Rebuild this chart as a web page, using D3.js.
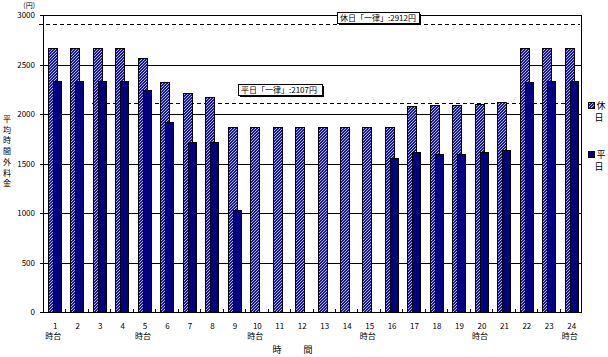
<!DOCTYPE html>
<html>
<head>
<meta charset="utf-8">
<script src="https://cdn.jsdelivr.net/npm/d3@7"></script>
<style>
  body { margin: 0; background: #fff; }
  text { font-family: "Noto Sans CJK JP", "DejaVu Sans", sans-serif; fill: #000; }
</style>
</head>
<body>
<svg id="chart"></svg>
<script>
// hours of the day
var hours = ["1","2","3","4","5","6","7","8","9","10","11","12","13","14","15","16","17","18","19","20","21","22","23","24"]
// 休日 (holiday) average overtime charge, yen
var holiday = [2670,2670,2670,2670,2570,2320,2210,2170,1870,1870,1870,1870,1870,1870,1870,1870,2080,2090,2090,2100,2120,2670,2670,2670]
// 平日 (weekday)
var weekday = [2330,2330,2330,2330,2240,1920,1720,1720,1030,0,0,0,0,0,0,1560,1620,1600,1600,1620,1640,2320,2330,2330]
var yTicks = [0,500,1000,1500,2000,2500,3000]
// flat-rate reference lines
var flatHoliday = 2912
var flatWeekday = 2107
var hourSuffixAt = ["1","5","10","15","20","24"]

var width = 608, height = 357
var svg = d3.select('#chart')
	.attr('width', width)
	.attr('height', height)

var x = d3.scaleBand()
	.domain(hours)
	.range([43, 582])
var y = d3.scaleLinear()
	.domain([0, 3000])
	.range([312.3, 15])

// hatch for holiday bars
var defs = svg.append('defs')
var pat = defs.append('pattern')
	.attr('id', 'hatch')
	.attr('patternUnits', 'userSpaceOnUse')
	.attr('width', 3)
	.attr('height', 3)
pat.append('rect')
	.attr('width', 3)
	.attr('height', 3)
	.attr('fill', '#1c1c90')
pat.append('path')
	.attr('d', 'M-1,1 L1,-1 M0,3 L3,0 M2,4 L4,2')
	.attr('stroke', '#d0d6ff')
	.attr('stroke-width', 0.8)

// gridlines
svg.append('g')
	.selectAll('line')
	.data(yTicks.filter(function(d) { return d > 0 }))
	.enter()
	.append('line')
	.attr('x1', 40)
	.attr('x2', 582)
	.attr('y1', function(d) { return Math.round(y(d)) + 0.5 })
	.attr('y2', function(d) { return Math.round(y(d)) + 0.5 })
	.attr('stroke', '#000')
	.attr('stroke-width', 1)

// dashed flat-rate lines
svg.append('line')
	.attr('x1', 39).attr('x2', 580)
	.attr('y1', Math.round(y(flatHoliday)) + 0.5)
	.attr('y2', Math.round(y(flatHoliday)) + 0.5)
	.attr('stroke', '#000')
	.attr('stroke-dasharray', '4,3')
svg.append('line')
	.attr('x1', 92).attr('x2', 572)
	.attr('y1', Math.round(y(flatWeekday)) + 0.5)
	.attr('y2', Math.round(y(flatWeekday)) + 0.5)
	.attr('stroke', '#000')
	.attr('stroke-dasharray', '4,3')

// bars
svg.append('g')
	.selectAll('rect')
	.data(holiday)
	.enter()
	.append('rect')
	.attr('x', function(d, i) { return Math.round(x(hours[i]) + 5) + 0.5 })
	.attr('y', function(d) { return Math.round(y(d)) + 0.5 })
	.attr('width', 9)
	.attr('height', function(d) { return Math.round(y(0)) - Math.round(y(d)) })
	.attr('fill', 'url(#hatch)')
	.attr('stroke', '#000')
	.attr('stroke-width', 1)

svg.append('g')
	.selectAll('rect')
	.data(weekday.map(function(v, i) { return { hour: hours[i], v: v } }).filter(function(d) { return d.v > 0 }))
	.enter()
	.append('rect')
	.attr('x', function(d) { return Math.round(x(d.hour) + 10) + 0.5 })
	.attr('y', function(d) { return Math.round(y(d.v)) + 0.5 })
	.attr('width', 8)
	.attr('height', function(d) { return Math.round(y(0)) - Math.round(y(d.v)) })
	.attr('fill', '#000080')
	.attr('stroke', '#000')
	.attr('stroke-width', 1)

// axes frame
svg.append('line')
	.attr('x1', 43.5).attr('x2', 43.5)
	.attr('y1', 15).attr('y2', 312.5)
	.attr('stroke', '#000')
svg.append('line')
	.attr('x1', 581.5).attr('x2', 581.5)
	.attr('y1', 15).attr('y2', 312.5)
	.attr('stroke', '#000')
svg.append('line')
	.attr('x1', 40).attr('x2', 582)
	.attr('y1', 312.5).attr('y2', 312.5)
	.attr('stroke', '#000')

// x ticks between categories (small, inward)
svg.append('g')
	.selectAll('line')
	.data(hours.slice(1))
	.enter()
	.append('line')
	.attr('x1', function(d) { return Math.round(x(d)) + 0.5 })
	.attr('x2', function(d) { return Math.round(x(d)) + 0.5 })
	.attr('y1', 309)
	.attr('y2', 312)
	.attr('stroke', '#000')

// y tick labels
svg.append('g')
	.selectAll('text')
	.data(yTicks)
	.enter()
	.append('text')
	.attr('x', 35)
	.attr('y', function(d) { return y(d) + 3 })
	.attr('text-anchor', 'end')
	.attr('font-size', 8)
	.text(function(d) { return d })
svg.append('text')
	.attr('x', 35).attr('y', 8)
	.attr('text-anchor', 'end')
	.attr('font-size', 7)
	.text('(円)')

// x tick labels
svg.append('g')
	.selectAll('text')
	.data(hours)
	.enter()
	.append('text')
	.attr('x', function(d) { return x(d) + x.bandwidth() / 2 + 1 })
	.attr('y', 329)
	.attr('text-anchor', 'middle')
	.attr('font-size', 8)
	.text(function(d) { return d })
svg.append('g')
	.selectAll('text')
	.data(hourSuffixAt)
	.enter()
	.append('text')
	.attr('x', function(d) { return x(d) + x.bandwidth() / 2 - 1 })
	.attr('y', 339)
	.attr('text-anchor', 'middle')
	.attr('font-size', 8)
	.text('時台')

// axis titles
svg.append('text')
	.attr('x', 277).attr('y', 353)
	.attr('text-anchor', 'middle')
	.attr('font-size', 9)
	.text('時')
svg.append('text')
	.attr('x', 308).attr('y', 353)
	.attr('text-anchor', 'middle')
	.attr('font-size', 9)
	.text('間')
svg.append('g')
	.selectAll('text')
	.data('平均時間外料金'.split(''))
	.enter()
	.append('text')
	.attr('x', 7)
	.attr('y', function(d, i) { return 122 + i * 10.7 })
	.attr('text-anchor', 'middle')
	.attr('font-size', 8)
	.text(function(d) { return d })

// flat-rate annotation boxes
function labelBox(x0, x1, yBottom, label) {
	var g = svg.append('g')
	g.append('rect')
		.attr('x', x0 + 2).attr('y', yBottom - 11 + 2)
		.attr('width', x1 - x0).attr('height', 11)
		.attr('fill', '#000')
	g.append('rect')
		.attr('x', x0 + 0.5).attr('y', yBottom - 11 + 0.5)
		.attr('width', x1 - x0).attr('height', 11)
		.attr('fill', '#fff')
		.attr('stroke', '#000')
	g.append('text')
		.attr('x', x0 + 3).attr('y', yBottom - 2.5)
		.attr('font-size', 8)
		.text(label)
}
labelBox(337, 419, Math.round(y(flatHoliday)) - 1, '休日「一律」:' + flatHoliday + '円')
labelBox(238, 322, Math.round(y(flatWeekday)) - 8, '平日「一律」:' + flatWeekday + '円')

// legend
var legend = [{ name: '休', fill: 'url(#hatch)', y: 102 }, { name: '平', fill: '#000080', y: 151 }]
var lg = svg.append('g')
	.selectAll('g')
	.data(legend)
	.enter()
	.append('g')
lg.append('rect')
	.attr('x', 588.5).attr('y', function(d) { return d.y + 0.5 })
	.attr('width', 6).attr('height', 6)
	.attr('fill', function(d) { return d.fill })
	.attr('stroke', '#000')
lg.append('text')
	.attr('x', 601).attr('y', function(d) { return d.y + 7 })
	.attr('text-anchor', 'middle')
	.attr('font-size', 9)
	.text(function(d) { return d.name })
lg.append('text')
	.attr('x', 599).attr('y', function(d) { return d.y + 19 })
	.attr('text-anchor', 'middle')
	.attr('font-size', 9)
	.text('日')
</script>
</body>
</html>
